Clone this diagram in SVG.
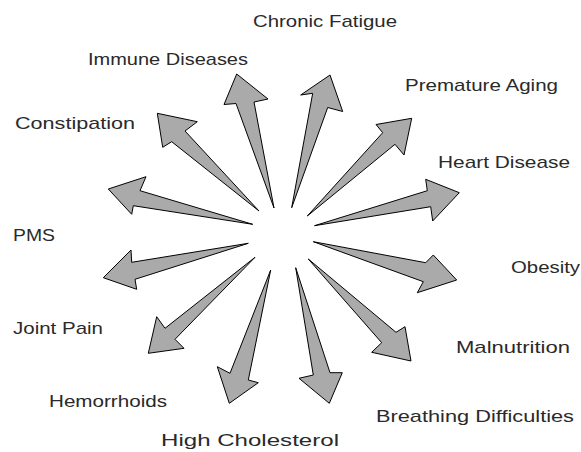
<svg xmlns="http://www.w3.org/2000/svg" width="581" height="452" viewBox="0 0 581 452">
<style>
.a{fill:#aaaaaa;stroke:#000;stroke-width:1;stroke-linejoin:miter}
.t{font-family:"Liberation Sans","DejaVu Sans",sans-serif;font-size:17px;fill:#2a2a2a}
</style>
<rect width="581" height="452" fill="#fff"/>
<g id="connectors">
<polygon class="a" points="274,208 236,103.5 224,104.5 236.7,74 268,99 254,102"/>
<polygon class="a" points="291.7,207.7 312.7,93.3 300.7,95 330,75 342.7,111.5 327.7,107.5"/>
<polygon class="a" points="307.3,216 382.7,132.7 376,124.5 411.7,118.3 404,155 395,144.3"/>
<polygon class="a" points="314.5,225.7 427.3,190.7 425.7,179.3 459.3,192.7 432.7,221 430.7,206.7"/>
<polygon class="a" points="313.3,241.7 425.7,262.7 433.3,255 456.7,280 417.3,292.7 423.3,281.7"/>
<polygon class="a" points="308.3,259 396,332.3 405,326.7 411,361 371.7,352.3 381.7,342.7"/>
<polygon class="a" points="295.7,267.7 330,372.7 342.3,372.7 329.3,403.3 299,378.3 313.3,375"/>
<polygon class="a" points="270.7,270 248.3,380 258.3,382.7 229.3,403.3 217.3,366.7 230,373.3"/>
<polygon class="a" points="255,257.3 165,328.3 156.7,316.7 148.3,353.3 184,348.3 175,339.3"/>
<polygon class="a" points="248.3,243.3 131.7,262.3 131,250 103.3,277.7 136.7,289.3 135,279.3"/>
<polygon class="a" points="252.7,224.3 140,190.7 146,176.7 108.3,189 131.7,214.3 133.3,205.7"/>
<polygon class="a" points="259,211 185,131 197.3,121.7 157.3,113.3 162.7,147.3 171.7,141.7"/>
</g>
<g id="n-chronic"><text class="t" x="253" y="27" textLength="144" lengthAdjust="spacingAndGlyphs">Chronic Fatigue</text></g>
<g id="n-immune"><text class="t" x="88" y="65" textLength="160" lengthAdjust="spacingAndGlyphs">Immune Diseases</text></g>
<g id="n-aging"><text class="t" x="405" y="91" textLength="153" lengthAdjust="spacingAndGlyphs">Premature Aging</text></g>
<g id="n-heart"><text class="t" x="438" y="168" textLength="132" lengthAdjust="spacingAndGlyphs">Heart Disease</text></g>
<g id="n-constipation"><text class="t" x="15" y="129" textLength="120" lengthAdjust="spacingAndGlyphs">Constipation</text></g>
<g id="n-pms"><text class="t" x="13" y="241" textLength="42" lengthAdjust="spacingAndGlyphs">PMS</text></g>
<g id="n-obesity"><text class="t" x="511" y="273" textLength="69" lengthAdjust="spacingAndGlyphs">Obesity</text></g>
<g id="n-joint"><text class="t" x="13" y="334" textLength="90" lengthAdjust="spacingAndGlyphs">Joint Pain</text></g>
<g id="n-malnutrition"><text class="t" x="456" y="353" textLength="114" lengthAdjust="spacingAndGlyphs">Malnutrition</text></g>
<g id="n-hemorrhoids"><text class="t" x="49" y="407" textLength="118" lengthAdjust="spacingAndGlyphs">Hemorrhoids</text></g>
<g id="n-breathing"><text class="t" x="376" y="422" textLength="198" lengthAdjust="spacingAndGlyphs">Breathing Difficulties</text></g>
<g id="n-cholesterol"><text class="t" x="161" y="446" textLength="178" lengthAdjust="spacingAndGlyphs">High Cholesterol</text></g>
</svg>
